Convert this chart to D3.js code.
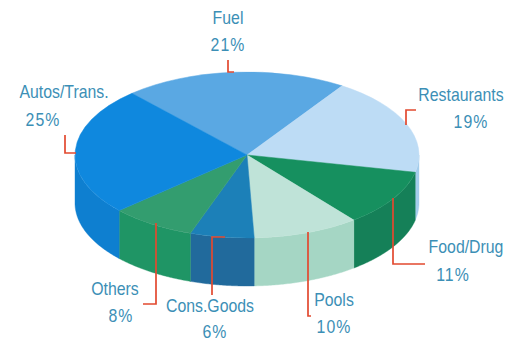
<!DOCTYPE html>
<html>
<head>
<meta charset="utf-8">
<script src="https://cdn.jsdelivr.net/npm/d3@7"></script>
<style>
  html, body { margin: 0; padding: 0; background: #fff; }
  svg { display: block; }
  text { font-family: "Liberation Sans", Arial, sans-serif; font-size: 18px; fill: #3c8fb6; text-anchor: middle; }
</style>
</head>
<body>
<svg id="chart" width="521" height="341"></svg>
<script>
// Share of sales by category, clockwise from the Autos/Fuel boundary
const categories = ["Fuel", "Restaurants", "Food/Drug", "Pools", "Cons.Goods", "Others", "Autos/Trans."];
const shares = [21, 19, 11, 10, 6, 8, 25];
const topColors = ["#5aa8e3", "#bddcf5", "#16905f", "#bfe3d8", "#1c80b8", "#339d6f", "#0f88de"];
const sideColors = ["#4d97d0", "#a3cdec", "#158058", "#a5d6c4", "#216a9c", "#1f9565", "#0e7fd0"];

// Ellipse geometry of the tilted disc
const cx = 247, cy = 155, rx = 172, ry = 83, depth = 48;
const firstAngle = -42 * Math.PI / 180;

const svg = d3.select("#chart");

const pie = d3.pie().value(d => d.share).sort(null)
  .startAngle(firstAngle).endAngle(firstAngle + 2 * Math.PI);
const slices = pie(categories.map((name, i) => ({ name, share: shares[i], i })));

// Unit-circle angle to screen coordinates
const px = d3.scaleLinear().domain([-1, 1]).range([cx - rx, cx + rx]);
const py = d3.scaleLinear().domain([-1, 1]).range([cy - ry, cy + ry]);

// Side walls: only the part of each slice facing the viewer (angles 90..270 degrees)
const wall = d3.area()
  .x(a => px(Math.sin(a)))
  .y0(a => py(-Math.cos(a)))
  .y1(a => py(-Math.cos(a)) + depth);

svg.append("g").selectAll("path")
  .data(slices)
  .join("path")
  .attr("fill", d => sideColors[d.data.i])
  .attr("stroke", d => sideColors[d.data.i])
  .attr("stroke-width", 0.4)
  .attr("d", d => {
    const s = Math.max(d.startAngle, Math.PI / 2);
    const e = Math.min(d.endAngle, 3 * Math.PI / 2);
    if (e <= s) return null;
    return wall(d3.range(s, e, 0.01).concat([e]));
  });

// Top face: a unit pie squashed into the ellipse
const arc = d3.arc().innerRadius(0).outerRadius(1);
svg.append("g")
  .attr("transform", `translate(${cx},${cy}) scale(${rx},${ry})`)
  .selectAll("path")
  .data(slices)
  .join("path")
  .attr("fill", d => topColors[d.data.i])
  .attr("stroke", d => topColors[d.data.i])
  .attr("stroke-width", 0.004)
  .attr("d", arc);

// Leader lines from the labels to the slices
const leaderPaths = [
  [[228, 60], [228, 72], [234, 72]],
  [[406, 125], [406, 110], [416, 110]],
  [[393, 198], [393, 264], [425, 264]],
  [[308, 232], [308, 316], [311, 316]],
  [[212, 295], [212, 237], [225, 237]],
  [[156, 223], [156, 304], [143, 304]],
  [[65, 135], [65, 153], [76, 153]]
];
const leader = d3.line();
svg.append("g").selectAll("path")
  .data(leaderPaths)
  .join("path")
  .attr("fill", "none")
  .attr("stroke", "#e2492f")
  .attr("stroke-width", 1.7)
  .attr("d", d => leader(d));

// Two-line labels: category name, then its share; glyphs are tall and slightly condensed
const namePlaces = [[228, 24], [461, 101], [466, 253], [334, 306], [210, 312], [115, 295], [64, 98]];
const sharePlaces = [[228, 51], [471, 128], [453, 281], [334, 333], [215, 338], [121, 322], [43, 126]];
const labels = svg.append("g");
const place = ([x, y]) => `translate(${x},${y}) scale(0.88,1)`;
categories.forEach((name, i) => {
  labels.append("text").attr("transform", place(namePlaces[i])).text(name);
  labels.append("text").attr("transform", place(sharePlaces[i]))
    .attr("letter-spacing", 1.2).text(shares[i] + "%");
});
</script>
</body>
</html>
